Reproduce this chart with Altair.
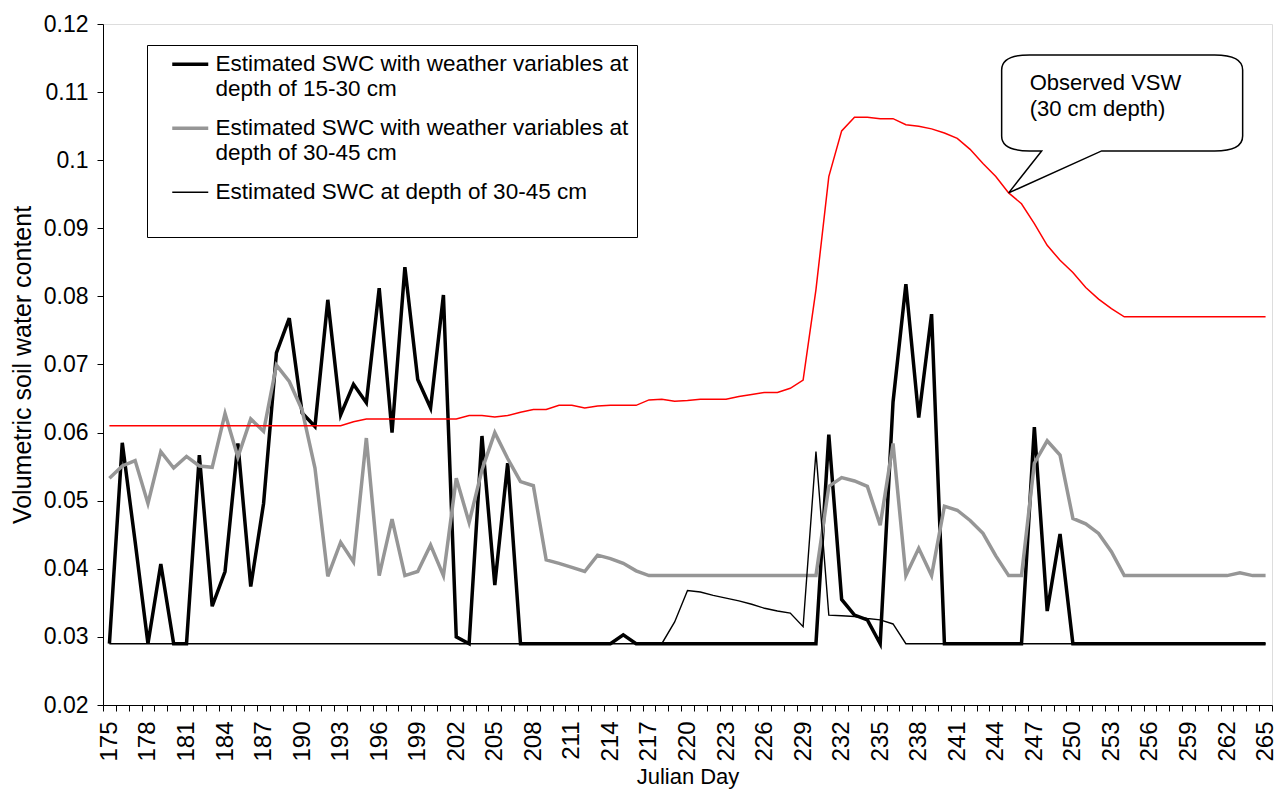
import altair as alt
import pandas as pd

# ---------------- data ----------------
days = list(range(175, 266))  # Julian days 175..265

swc_weather_15_30 = [
    0.029, 0.0585, 0.044, 0.029, 0.0407, 0.029, 0.029, 0.0567, 0.0345, 0.0396,
    0.0584, 0.0374, 0.0496, 0.0717, 0.0768, 0.0629, 0.0609, 0.0795, 0.0626, 0.0671,
    0.0644, 0.0812, 0.0600, 0.0843, 0.0678, 0.0636, 0.0802, 0.0300, 0.029, 0.0595,
    0.0376, 0.0555, 0.029, 0.029, 0.029, 0.029, 0.029, 0.029, 0.029, 0.029,
    0.0303, 0.029, 0.029, 0.029, 0.029, 0.029, 0.029, 0.029, 0.029, 0.029,
    0.029, 0.029, 0.029, 0.029, 0.029, 0.029, 0.0597, 0.0355, 0.0332, 0.0325,
    0.029, 0.0645, 0.0818, 0.0622, 0.0774, 0.029, 0.029, 0.029, 0.029, 0.029,
    0.029, 0.029, 0.0608, 0.0338, 0.0451, 0.029, 0.029, 0.029, 0.029, 0.029,
    0.029, 0.029, 0.029, 0.029, 0.029, 0.029, 0.029, 0.029, 0.029, 0.029,
    0.029,
]

swc_weather_30_45 = [
    0.0533, 0.0551, 0.0559, 0.0496, 0.0572, 0.0548, 0.0565, 0.0551, 0.0549, 0.0628,
    0.0564, 0.0620, 0.0602, 0.0699, 0.0675, 0.0633, 0.0548, 0.0389, 0.0439, 0.0410,
    0.0592, 0.0390, 0.0473, 0.0390, 0.0396, 0.0435, 0.0390, 0.0533, 0.0468, 0.0545,
    0.0600, 0.0562, 0.0528, 0.0522, 0.0413, 0.0408, 0.0402, 0.0396, 0.0420, 0.0415,
    0.0408, 0.0397, 0.039, 0.039, 0.039, 0.039, 0.039, 0.039, 0.039, 0.039,
    0.039, 0.039, 0.039, 0.039, 0.039, 0.039, 0.0521, 0.0534, 0.0529, 0.0521,
    0.0464, 0.0584, 0.039, 0.043, 0.039, 0.0492, 0.0486, 0.0471, 0.0452, 0.0419,
    0.039, 0.039, 0.0555, 0.0588, 0.0567, 0.0474, 0.0466, 0.0452, 0.0425, 0.039,
    0.039, 0.039, 0.039, 0.039, 0.039, 0.039, 0.039, 0.039, 0.0394, 0.039,
    0.039,
]

swc_30_45 = [
    0.029, 0.029, 0.029, 0.029, 0.029, 0.029, 0.029, 0.029, 0.029, 0.029,
    0.029, 0.029, 0.029, 0.029, 0.029, 0.029, 0.029, 0.029, 0.029, 0.029,
    0.029, 0.029, 0.029, 0.029, 0.029, 0.029, 0.029, 0.029, 0.029, 0.029,
    0.029, 0.029, 0.029, 0.029, 0.029, 0.029, 0.029, 0.029, 0.029, 0.029,
    0.029, 0.029, 0.029, 0.029, 0.0322, 0.0368, 0.0366, 0.0361, 0.0357, 0.0353,
    0.0348, 0.0342, 0.0338, 0.0335, 0.0315, 0.0572, 0.0332, 0.0331, 0.0330, 0.0327,
    0.0325, 0.0319, 0.029, 0.029, 0.029, 0.029, 0.029, 0.029, 0.029, 0.029,
    0.029, 0.029, 0.029, 0.029, 0.029, 0.029, 0.029, 0.029, 0.029, 0.029,
    0.029, 0.029, 0.029, 0.029, 0.029, 0.029, 0.029, 0.029, 0.029, 0.029,
    0.029,
]

observed_vsw = [
    0.061, 0.061, 0.061, 0.061, 0.061, 0.061, 0.061, 0.061, 0.061, 0.061,
    0.061, 0.061, 0.061, 0.061, 0.061, 0.061, 0.061, 0.061, 0.061, 0.0616,
    0.062, 0.062, 0.062, 0.062, 0.062, 0.062, 0.062, 0.062, 0.0625, 0.0625,
    0.0623, 0.0625, 0.063, 0.0634, 0.0634, 0.064, 0.064, 0.0636, 0.0639, 0.064,
    0.064, 0.064, 0.0648, 0.0649, 0.0646, 0.0647, 0.0649, 0.0649, 0.0649, 0.0653,
    0.0656, 0.0659, 0.0659, 0.0665, 0.0677, 0.081, 0.0976, 0.1043, 0.1063, 0.1063,
    0.1061, 0.1061, 0.1052, 0.105, 0.1046, 0.104, 0.1032, 0.1016, 0.0995, 0.0976,
    0.0952, 0.0936, 0.0907, 0.0875, 0.0853, 0.0835, 0.0813, 0.0796, 0.0782, 0.077,
    0.077, 0.077, 0.077, 0.077, 0.077, 0.077, 0.077, 0.077, 0.077, 0.077,
    0.077,
]

series_labels = [
    "Estimated SWC with weather variables at|depth of 15-30 cm",
    "Estimated SWC with weather variables at|depth of 30-45 cm",
    "Estimated SWC at depth of 30-45 cm|",
]
series_values = [swc_weather_15_30, swc_weather_30_45, swc_30_45]

x_tick_labels = [175, 178, 181, 184, 187, 190, 193, 196, 199, 202, 205, 208, 211, 214,
                 217, 220, 223, 226, 229, 232, 235, 238, 241, 244, 247, 250, 253, 256,
                 259, 262, 265]
y_ticks = [0.02, 0.03, 0.04, 0.05, 0.06, 0.07, 0.08, 0.09, 0.10, 0.11, 0.12]

callout_lines = ["Observed VSW", "(30 cm depth)"]
callout_day_index = 70  # day 245, where the callout pointer touches the observed line

# ---------------- styles ----------------
FONT = "Liberation Sans"
PLOT_W, PLOT_H = 1169, 681
series_colors = ["#000000", "#969696", "#000000"]
series_widths = [3.5, 3.5, 1.4]

half_band = PLOT_W / len(days) / 2
tick_positions = [d - 0.5 for d in days] + [days[-1] + 0.5]

label_expr = (
    "indexof([" + ",".join(str(v) for v in x_tick_labels) + "], datum.value + 0.5) >= 0"
    " ? '' + (datum.value + 0.5) : ''"
)

x_enc = alt.X(
    "day:Q",
    title="Julian Day",
    scale=alt.Scale(domain=[days[0] - 0.5, days[-1] + 0.5], nice=False, zero=False),
    axis=alt.Axis(
        values=tick_positions,
        labelExpr=label_expr,
        labelOffset=half_band,
        labelAngle=-90,
        labelOverlap=False,
        labelFlush=False,
        labelBound=False,
        labelPadding=10,
        labelFontSize=24,
        tickSize=6,
        tickColor="black",
        domainColor="black",
        grid=False,
        titleFontSize=22,
        titleFontWeight="normal",
        titlePadding=5,
    ),
)
y_enc = alt.Y(
    "value:Q",
    title="Volumetric soil water content",
    scale=alt.Scale(domain=[0.02, 0.12], nice=False, zero=False),
    axis=alt.Axis(
        values=y_ticks,
        format=".2~f",
        labelFontSize=23,
        labelPadding=9,
        labelFlush=False,
        tickSize=6,
        tickColor="black",
        domainColor="black",
        grid=False,
        titleFontSize=25,
        titleFontWeight="normal",
        titlePadding=8,
    ),
)

thin_label = series_labels[2]
legend = alt.Legend(
    title=None,
    orient="none",
    legendX=44,
    legendY=21,
    strokeColor="black",
    fillColor="white",
    padding=8,
    symbolType="stroke",
    symbolSize=1296,
    symbolOffset=24,
    symbolStrokeWidth={"expr": f"datum.value == '{thin_label}' ? {series_widths[2]} : {series_widths[0]}"},
    labelOffset=14,
    labelFont=FONT,
    labelFontSize=22.5,
    labelColor="black",
    labelLimit=1000,
    labelBaseline="middle",
    labelExpr="split(datum.label, '|')",
    rowPadding=16,
)

color_scale = alt.Scale(domain=series_labels, range=series_colors)

series_layers = []
for lab, vals, w in zip(series_labels, series_values, series_widths):
    df = pd.DataFrame({"day": days, "value": vals, "series": lab})
    series_layers.append(
        alt.Chart(df).mark_line().encode(
            x=x_enc,
            y=y_enc,
            color=alt.Color("series:N", scale=color_scale, legend=legend),
            strokeWidth=alt.value(w),
        )
    )

obs_df = pd.DataFrame({"day": days, "value": observed_vsw})
observed = alt.Chart(obs_df).mark_line(color="#ff0000", strokeWidth=1.5).encode(
    x=x_enc, y=y_enc
)

callout_df = pd.DataFrame({
    "day": [days[callout_day_index]],
    "value": [observed_vsw[callout_day_index]],
    "l1": [callout_lines[0]],
    "l2": [callout_lines[1]],
})
callout_path = (
    "M0,0 L33,-42 L21,-42 Q-7,-42 -7,-57 L-7,-123 Q-7,-138 21,-138 "
    "L206,-138 Q234,-138 234,-123 L234,-57 Q234,-42 206,-42 L93,-42 Z"
)
callout_box = alt.Chart(callout_df).mark_point(
    shape=callout_path, size=4, filled=False, fill="white", fillOpacity=1,
    stroke="black", strokeOpacity=1, strokeWidth=1.5, opacity=1,
).encode(x=x_enc, y=y_enc)

callout_t1 = alt.Chart(callout_df).mark_text(
    align="left", baseline="alphabetic", dx=21, dy=-103, font=FONT, fontSize=22, color="black"
).encode(x=x_enc, y=y_enc, text="l1:N")
callout_t2 = alt.Chart(callout_df).mark_text(
    align="left", baseline="alphabetic", dx=21, dy=-77, font=FONT, fontSize=22, color="black"
).encode(x=x_enc, y=y_enc, text="l2:N")

chart = alt.layer(
    *series_layers, observed, callout_box, callout_t1, callout_t2
).properties(
    width=PLOT_W,
    height=PLOT_H,
    autosize=alt.AutoSizeParams(type="none"),
    padding={"left": 103, "top": 24, "right": 7, "bottom": 89},
).configure_view(
    stroke="#8c8c8c", strokeWidth=1
).configure_axis(
    labelFont=FONT, titleFont=FONT, labelColor="black", titleColor="black",
    titleFontWeight="normal", domainWidth=1, tickWidth=1,
).configure(background="white")

chart.save("out.html", embed_options={"renderer": "svg", "actions": False})
